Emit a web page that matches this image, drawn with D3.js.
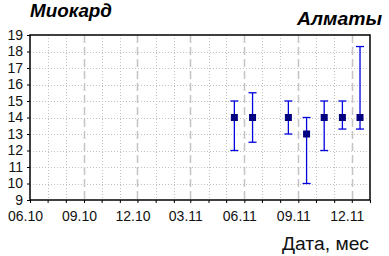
<!DOCTYPE html>
<html><head><meta charset="utf-8">
<script src="https://cdn.jsdelivr.net/npm/d3@7"></script>
<style>body{margin:0;background:#fff}svg{display:block}text{font-family:"Liberation Sans",Arial,sans-serif}</style>
</head><body><svg id="c" width="389" height="256"></svg>
<script>
const dates = ["2011-05-15","2011-06-15","2011-08-15","2011-09-15","2011-10-15","2011-11-15","2011-12-15"];
const means = [14, 14, 14, 13, 14, 14, 14];
const lows  = [12, 12.5, 13, 10, 12, 13.3, 13.3];
const highs = [15, 15.5, 15, 14, 15, 15, 18.3];
const yTicks = [9,10,11,12,13,14,15,16,17,18,19];
const xStart = "2010-06-01", xEnd = "2012-01-01";
const title = "Миокард", subtitle = "Алматы", xTitle = "Дата, мес";

const svg = d3.select("#c");
const parse = d3.utcParse("%Y-%m-%d");
const L=30,R=370,T=35,B=200;
const x = d3.scaleUtc().domain([parse(xStart), parse(xEnd)]).range([L,R]);
const y = d3.scaleLinear().domain([9,19]).range([B,T]);
const months = d3.utcMonth.range(parse(xStart), parse(xEnd));

// horizontal grid
svg.append("g").selectAll("line").data(yTicks.filter(v=>v>9&&v<19)).join("line")
  .attr("x1",L).attr("x2",R).attr("y1",d=>Math.round(y(d))+0.5).attr("y2",d=>Math.round(y(d))+0.5)
  .attr("stroke","#c0c0c0").attr("stroke-dasharray","1,2");
// vertical grid
svg.append("g").selectAll("line").data(months.slice(1)).join("line")
  .attr("x1",d=>Math.round(x(d))+0.5).attr("x2",d=>Math.round(x(d))+0.5).attr("y1",T).attr("y2",B)
  .attr("stroke",d=>d.getUTCMonth()%3===2?"#c4c4c4":"#c0c0c0")
  .attr("stroke-width",d=>d.getUTCMonth()%3===2?1.5:1)
  .attr("stroke-dasharray",d=>d.getUTCMonth()%3===2?"8,4":"1,2");

// frame
svg.append("rect").attr("x",L).attr("y",T).attr("width",R-L).attr("height",B-T)
  .attr("fill","none").attr("stroke","#000").attr("stroke-width",1.5);

// y axis
const ya = svg.append("g").attr("transform",`translate(${L},0)`)
  .call(d3.axisLeft(y).tickValues(yTicks).tickSize(3).tickPadding(4).tickFormat(d3.format("d")));
ya.select(".domain").remove();
ya.selectAll("line").attr("stroke","#000");
ya.selectAll("text").attr("font-size",14).attr("fill","#111").attr("font-family","Liberation Sans, Arial, sans-serif");

// x axis
const xa = svg.append("g").attr("transform",`translate(0,${B})`)
  .call(d3.axisBottom(x).tickValues(months.concat([parse(xEnd)])).tickSize(3).tickPadding(8)
    .tickFormat(d=> d.getUTCMonth()%3===2 ? d3.utcFormat("%m.%y")(d) : ""));
xa.select(".domain").remove();
xa.selectAll("line").attr("stroke","#000");
xa.selectAll("text").attr("font-size",14).attr("fill","#111").attr("dx",-5).attr("font-family","Liberation Sans, Arial, sans-serif");

// error bars
const pts = dates.map((d,i)=>({x:x(parse(d)), m:means[i], lo:lows[i], hi:highs[i]}));
const eb = svg.append("g").attr("stroke","#0000e0").attr("stroke-width",1.3);
eb.selectAll(".v").data(pts).join("line").attr("x1",d=>d.x).attr("x2",d=>d.x).attr("y1",d=>y(d.lo)).attr("y2",d=>y(d.hi));
eb.selectAll(".t").data(pts).join("line").attr("x1",d=>d.x-4).attr("x2",d=>d.x+4).attr("y1",d=>y(d.hi)).attr("y2",d=>y(d.hi));
eb.selectAll(".b").data(pts).join("line").attr("x1",d=>d.x-4).attr("x2",d=>d.x+4).attr("y1",d=>y(d.lo)).attr("y2",d=>y(d.lo));
svg.append("g").selectAll("rect").data(pts).join("rect")
  .attr("x",d=>d.x-3.5).attr("y",d=>y(d.m)-3.5).attr("width",7).attr("height",7).attr("fill","#000080");

// texts
svg.append("text").attr("x",30).attr("y",17).attr("font-size",18).attr("font-weight","bold").attr("font-style","italic").attr("fill","#000")
  .attr("textLength",82).attr("lengthAdjust","spacingAndGlyphs").text(title);
svg.append("text").attr("x",297).attr("y",25).attr("font-size",18).attr("font-weight","bold").attr("font-style","italic").attr("fill","#000")
  .attr("textLength",85).attr("lengthAdjust","spacingAndGlyphs").text(subtitle);
svg.append("text").attr("x",282).attr("y",250).attr("font-size",18).attr("fill","#111")
  .attr("textLength",87).attr("lengthAdjust","spacingAndGlyphs").text(xTitle);
</script></body></html>
